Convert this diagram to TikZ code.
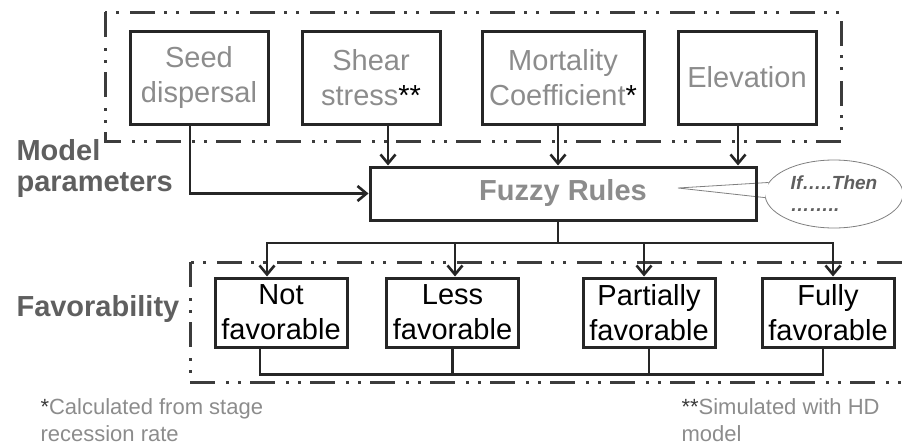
\documentclass[tikz,border=0pt]{standalone}
\usepackage{fontspec}
\setmainfont{Liberation Sans}
\usetikzlibrary{arrows.meta,shapes.geometric}
\definecolor{txtgray}{RGB}{140,140,140}
\definecolor{lblgray}{RGB}{95,95,95}
\definecolor{boxdark}{RGB}{38,38,38}
\definecolor{grpdark}{RGB}{60,60,60}
\tikzset{
  parambox/.style={draw=boxdark, line width=3pt, minimum height=93pt, align=center,
    inner xsep=0pt, text=txtgray, font=\fontsize{29}{35}\selectfont},
  favbox/.style={draw=boxdark, line width=3pt, minimum width=132pt, minimum height=69pt,
    align=center, inner xsep=0pt, font=\fontsize{29}{35}\selectfont},
  grouping/.style={draw=grpdark, line width=3pt,
    dash pattern=on 25pt off 11pt on 3pt off 9pt on 3pt off 9pt},
  conn/.style={draw=boxdark, line width=2.6pt},
  arr/.style={conn, -{Straight Barb[length=9pt,width=15pt]}},
  heading/.style={anchor=west, align=left, text=lblgray, font=\fontsize{29}{31}\selectfont\bfseries},
  footnote/.style={anchor=west, align=left, text=txtgray, font=\fontsize{22}{27}\selectfont}
}
\begin{document}
\begin{tikzpicture}[x=1pt,y=-1pt]
\useasboundingbox (0,0) rectangle (902,447);
\draw[grouping] (105,12) rectangle (841,141);
\draw[grouping] (190,262) rectangle (906,382);
\node[parambox, minimum width=138pt] (seed) at (199,77.5) {Seed\\dispersal};
\node[parambox, minimum width=138pt] (shear) at (371,77.5) {Shear\\stress{\color{black}**}};
\node[parambox, minimum width=162pt] (mort) at (563,77.5) {Mortality\\Coefficient{\color{black}*}};
\node[parambox, minimum width=138pt] (elev) at (747,77.5) {Elevation};
\node[ellipse, draw=gray, line width=0.8pt, fill=white, minimum width=138pt, minimum height=68pt,
  inner sep=0pt, align=left, text=lblgray, font=\fontsize{19}{22}\selectfont\bfseries\itshape] (rules) at (834,194)
  {If…..Then\\……..};
\coordinate (tip) at (678,188);
\fill[white] (tip) -- (rules.170) -- (rules.183) -- cycle;
\draw[gray, line width=0.8pt] (rules.170) -- (tip) -- (rules.183);
\node[draw=boxdark, line width=3pt, minimum width=386pt, minimum height=53pt,
  text=txtgray, font=\fontsize{29}{34}\selectfont\bfseries] (fuzzy) at (563,193.5) {Fuzzy Rules};
\draw[arr] ([xshift=-9pt]seed.south) |- (fuzzy.west);
\draw[arr] ([xshift=17pt]shear.south) coordinate (s1) -- (s1 |- fuzzy.north);
\draw[arr] ([xshift=-5pt]mort.south) coordinate (s2) -- (s2 |- fuzzy.north);
\draw[arr] ([xshift=-9pt]elev.south) coordinate (s3) -- (s3 |- fuzzy.north);
\node[favbox] (notf) at (281,312.5) {Not\\favorable};
\node[favbox] (less) at (452.5,312.5) {Less\\favorable};
\node[favbox] (part) at (649,312.5) {Partially\\favorable};
\node[favbox] (fully) at (828,312.5) {Fully\\favorable};
\coordinate (split) at (558,243);
\draw[conn] ([xshift=-5pt]fuzzy.south) -- (split);
\draw[arr] (split) -| ([xshift=-14pt]notf.north);
\draw[arr] (split) -| ([xshift=2.5pt]less.north);
\draw[arr] (split) -| ([xshift=-5pt]part.north);
\draw[arr] (split) -| ([xshift=5pt]fully.north);
\draw[conn] ([xshift=-21pt]notf.south) -- ++(0,26) -| ([xshift=-5pt]fully.south);
\draw[conn] (less.south) -- ++(0,26);
\draw[conn] (part.south) -- ++(0,26);
\node[heading] (model) at (13,168) {Model\\parameters};
\node[heading] (favor) at (13,309) {Favorability};
\node[footnote] (note1) at (37,420) {{\color{grpdark}*}Calculated from stage\\recession rate};
\node[footnote] (note2) at (678,420) {{\color{grpdark}**}Simulated with HD\\model};
\end{tikzpicture}
\end{document}
